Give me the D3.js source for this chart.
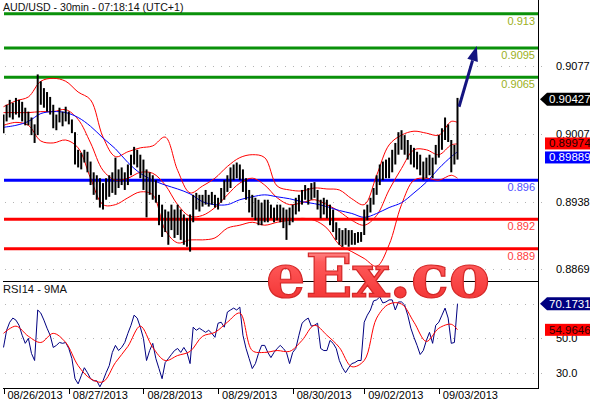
<!DOCTYPE html>
<html><head><meta charset="utf-8">
<script src="https://cdnjs.cloudflare.com/ajax/libs/d3/7.8.5/d3.min.js"></script>
<style>
body{margin:0;background:#ffffff}
svg{display:block;font-family:"Liberation Sans",Arial,sans-serif}
</style>
</head><body>
<svg id="c" width="590" height="400"></svg>
<script>
// ---------- DATA ----------
const chartTitle = "AUD/USD - 30min - 07:18:14 (UTC+1)";
const rsiTitle = "RSI14 - 9MA";
const dayLabels = ["08/26/2013","08/27/2013","08/28/2013","08/29/2013","08/30/2013","09/02/2013","09/03/2013"];
const dayStartIdx = [0,21,45,69,93,116,140];

const barHigh = [
0.9027,0.9037,0.9042,0.9039,0.9044,0.9042,0.9040,0.9034,0.9030,0.9024,
0.9017,0.9068,0.9061,0.9054,0.9050,0.9045,0.9037,0.9027,0.9034,0.9030,
0.9035,0.9030,0.9022,0.9009,0.8991,0.8988,0.8991,0.8989,0.8979,0.8968,
0.8965,0.8962,0.8957,0.8962,0.8965,0.8968,0.8983,0.8971,0.8973,0.8968,
0.8976,0.8986,0.8994,0.8991,0.8986,0.8981,0.8971,0.8968,0.8965,0.8960,
0.8945,0.8935,0.8930,0.8928,0.8935,0.8930,0.8935,0.8930,0.8925,0.8921,
0.8925,0.8945,0.8947,0.8945,0.8945,0.8950,0.8945,0.8948,0.8945,0.8942,
0.8952,0.8960,0.8965,0.8973,0.8976,0.8978,0.8976,0.8971,0.8962,0.8950,
0.8945,0.8942,0.8940,0.8937,0.8940,0.8940,0.8935,0.8932,0.8935,0.8935,
0.8932,0.8930,0.8932,0.8935,0.8942,0.8945,0.8950,0.8955,0.8952,0.8957,
0.8958,0.8950,0.8940,0.8942,0.8940,0.8935,0.8930,0.8917,0.8911,0.8909,
0.8911,0.8909,0.8909,0.8906,0.8907,0.8907,0.8930,0.8935,0.8942,0.8952,
0.8965,0.8976,0.8979,0.8981,0.8983,0.8991,0.8998,0.9009,0.9011,0.9006,
0.9001,0.8996,0.8993,0.8989,0.8986,0.8979,0.8983,0.8986,0.8983,0.8996,
0.9006,0.9013,0.9024,0.9017,0.9001,0.8996,0.9044];

const barLow = [
0.9008,0.9020,0.9024,0.9022,0.9027,0.9024,0.9020,0.9016,0.9016,0.9006,
0.8998,0.9006,0.9037,0.9034,0.9030,0.9027,0.9013,0.9011,0.9019,0.9015,
0.9020,0.9017,0.9008,0.8976,0.8973,0.8971,0.8978,0.8968,0.8955,0.8945,
0.8940,0.8932,0.8930,0.8940,0.8943,0.8947,0.8945,0.8952,0.8955,0.8950,
0.8955,0.8965,0.8976,0.8973,0.8962,0.8950,0.8922,0.8945,0.8940,0.8937,
0.8914,0.8902,0.8907,0.8894,0.8909,0.8901,0.8904,0.8899,0.8894,0.8892,
0.8887,0.8917,0.8930,0.8928,0.8933,0.8935,0.8933,0.8935,0.8932,0.8930,
0.8937,0.8940,0.8948,0.8952,0.8960,0.8962,0.8960,0.8948,0.8940,0.8927,
0.8922,0.8919,0.8914,0.8914,0.8917,0.8917,0.8921,0.8917,0.8919,0.8917,
0.8911,0.8899,0.8914,0.8917,0.8925,0.8928,0.8935,0.8940,0.8935,0.8940,
0.8942,0.8930,0.8921,0.8925,0.8921,0.8914,0.8907,0.8899,0.8894,0.8892,
0.8894,0.8892,0.8894,0.8894,0.8896,0.8897,0.8904,0.8919,0.8927,0.8935,
0.8945,0.8955,0.8960,0.8962,0.8962,0.8968,0.8976,0.8986,0.8991,0.8986,
0.8981,0.8976,0.8973,0.8971,0.8965,0.8960,0.8962,0.8965,0.8962,0.8976,
0.8983,0.8991,0.9001,0.8999,0.8968,0.8976,0.8981];

// indicator lines sampled every 4 bars (+ last bar)
const bandIdx = [0,4,8,12,16,20,24,28,32,36,40,44,48,52,56,60,64,68,72,76,80,84,88,92,96,100,104,108,112,116,120,124,128,132,136,140,144,146];
const bbUpper = [0.9035,0.9041,0.9045,0.9061,0.9064,0.9061,0.9050,0.9042,0.9004,0.8984,0.8989,0.8993,0.8995,0.9004,0.8970,0.8947,0.8954,0.8962,0.8974,0.8983,0.8986,0.8983,0.8954,0.8950,0.8949,0.8952,0.8951,0.8950,0.8941,0.8935,0.8965,0.8996,0.9006,0.9010,0.9008,0.9006,0.9020,0.9019];
const bbMiddle = [0.9029,0.9029,0.9029,0.9030,0.9030,0.9032,0.9022,0.8998,0.8970,0.8960,0.8962,0.8968,0.8967,0.8955,0.8935,0.8923,0.8924,0.8932,0.8945,0.8957,0.8962,0.8955,0.8942,0.8935,0.8937,0.8940,0.8935,0.8928,0.8919,0.8914,0.8924,0.8950,0.8972,0.8991,0.8991,0.8986,0.8996,0.8997];
const bbLower = [0.9016,0.9019,0.9016,0.9000,0.8998,0.9001,0.8993,0.8962,0.8935,0.8935,0.8942,0.8948,0.8945,0.8909,0.8896,0.8899,0.8899,0.8901,0.8911,0.8914,0.8917,0.8914,0.8917,0.8919,0.8921,0.8919,0.8911,0.8894,0.8887,0.8880,0.8872,0.8894,0.8935,0.8960,0.8962,0.8960,0.8965,0.8962];
const maBlue = [0.9014,0.9016,0.9020,0.9028,0.9030,0.9029,0.9024,0.9015,0.9003,0.8992,0.8978,0.8967,0.8960,0.8955,0.8951,0.8946,0.8938,0.8935,0.8935,0.8940,0.8943,0.8945,0.8943,0.8941,0.8938,0.8936,0.8933,0.8929,0.8926,0.8922,0.8926,0.8932,0.8937,0.8947,0.8958,0.8972,0.8984,0.8989];

const rsiValues = [
44.7,54.7,59.4,61.8,60.6,57.6,51.8,47.1,50.0,41.2,
37.1,66.5,64.7,60.6,55.9,51.8,44.7,45.9,47.6,47.1,
47.6,44.1,38.2,26.5,23.5,28.2,32.9,30.0,26.5,25.3,
25.3,21.8,25.3,30.0,34.1,41.8,45.9,42.9,44.7,47.6,
52.9,57.6,63.5,61.8,56.5,50.0,37.1,42.9,47.1,38.2,
32.4,26.5,35.9,38.2,40.6,42.9,44.1,41.8,44.7,41.8,
35.3,56.5,54.7,55.9,54.7,53.5,54.7,52.9,50.6,58.8,
59.4,56.5,65.3,66.5,67.6,66.5,68.2,51.8,44.1,38.2,
32.4,35.3,41.2,45.9,45.9,41.8,38.8,41.8,44.1,45.9,
44.1,41.8,35.3,41.8,44.1,51.8,58.8,60.6,61.8,57.1,
57.6,58.8,44.1,42.9,42.9,48.8,47.1,44.1,37.1,32.9,
30.0,32.9,35.3,35.9,37.1,37.1,59.4,63.5,66.5,71.8,
72.4,74.1,70.6,71.2,72.4,72.4,66.5,71.2,71.2,69.4,
63.5,55.9,50.6,45.9,40.6,42.9,48.8,53.5,47.1,57.6,
59.4,63.5,67.6,61.8,47.1,47.6,70.2];
const rsiMa = [52.9,57.1,51.2,47.6,52.9,47.6,34.1,26.5,24.7,35.9,45.3,57.1,44.7,37.1,40.0,42.4,51.2,53.5,59.4,64.7,42.9,41.8,42.9,42.4,48.8,57.6,51.8,44.7,33.5,37.1,61.8,70.0,70.0,59.4,48.2,55.9,58.2,55.0];

const levelValues = [0.913,0.9095,0.9065,0.896,0.892,0.889];
const levelKinds  = ["target","target","target","pivot","support","support"];
const levelText   = ["0.913","0.9095","0.9065","0.896","0.892","0.889"];
const priceTicks = [0.9077,0.9007,0.8938,0.8869];
const rsiTicks = [70,50,30];
const rsiTickShown = [false,true,true]; // 70.0 is covered by the RSI tag
const lastPrice = 0.90427, lastBBMid = 0.899748, lastMA = 0.898895;
const lastRsi = 70.1731, lastRsiMa = 54.9646;
const arrowFrom = [146.5, 0.9035], arrowTo = [152.2, 0.9097];
const watermark = "eEx.co";

// ---------- LAYOUT ----------
const svg = d3.select("#c");
const L = 3, R = 538, mainTop = 0, mainBot = 281, rsiBot = 388;
const x = d3.scaleLinear().domain([0,146]).range([3.5,457.5]);
const y = d3.scaleLinear().domain([0.889,0.913]).range([248.7,13.7]);
const yr = d3.scaleLinear().domain([30,70]).range([372.7,304]);
const kindColor = {target:"#0a910a", pivot:"#0000ff", support:"#ff0000"};
const kindText = {target:"#9cb01c", pivot:"#5050ff", support:"#ff3c3c"};

const defs = svg.append("defs");
defs.append("clipPath").attr("id","mainClip").append("rect")
  .attr("x",L).attr("y",mainTop).attr("width",R-L).attr("height",mainBot-mainTop);
defs.append("clipPath").attr("id","rsiClip").append("rect")
  .attr("x",L).attr("y",mainBot+1).attr("width",R-L).attr("height",rsiBot-mainBot-1);

// gridlines
const grid = svg.append("g").attr("stroke","#b4b4b4").attr("stroke-dasharray","1,7");
priceTicks.forEach(v=>grid.append("line").attr("x1",L+2).attr("x2",R+7).attr("y1",Math.round(y(v))+0.5).attr("y2",Math.round(y(v))+0.5));
rsiTicks.forEach(v=>grid.append("line").attr("x1",L+2).attr("x2",R+7).attr("y1",Math.round(yr(v))+0.5).attr("y2",Math.round(yr(v))+0.5));

// level lines
const lv = svg.append("g");
levelValues.forEach((v,i)=>{
  lv.append("line").attr("x1",L+1).attr("x2",R).attr("y1",y(v)).attr("y2",y(v))
    .attr("stroke",kindColor[levelKinds[i]]).attr("stroke-width",3);
  lv.append("text").attr("x",R-3).attr("y",y(v)+11).attr("text-anchor","end")
    .attr("font-size",11).attr("fill",kindText[levelKinds[i]]).text(levelText[i]);
});

// bands
const mg = svg.append("g").attr("clip-path","url(#mainClip)");
const lineGen = arr => d3.line().x((d,i)=>x(bandIdx[i])).y(d=>y(d)).curve(d3.curveCatmullRom.alpha(0.5))(arr);
[bbUpper,bbMiddle,bbLower].forEach(a=>mg.append("path").attr("d",lineGen(a)).attr("fill","none").attr("stroke","#ff0000").attr("stroke-width",1));
mg.append("path").attr("d",lineGen(maBlue)).attr("fill","none").attr("stroke","#0000ff").attr("stroke-width",1);

// bars
mg.append("g").selectAll("line").data(barHigh).join("line")
  .attr("x1",(d,i)=>x(i)).attr("x2",(d,i)=>x(i))
  .attr("y1",d=>y(d)).attr("y2",(d,i)=>y(barLow[i]))
  .attr("stroke","#000").attr("stroke-width",2);

// arrow
const ax0 = x(arrowFrom[0]), ay0 = y(arrowFrom[1]), ax1 = x(arrowTo[0]), ay1 = y(arrowTo[1]);
const ang = Math.atan2(ay1-ay0, ax1-ax0);
const hl = 15, hw = 5.5;
const bx = ax1 - hl*Math.cos(ang), by = ay1 - hl*Math.sin(ang);
svg.append("line").attr("x1",ax0).attr("y1",ay0).attr("x2",bx).attr("y2",by).attr("stroke","#141480").attr("stroke-width",3);
svg.append("polygon").attr("fill","#141480").attr("points",[
  [ax1,ay1],[bx - hw*Math.sin(ang), by + hw*Math.cos(ang)],[bx + hw*Math.sin(ang), by - hw*Math.cos(ang)]
].map(p=>p.join(",")).join(" "));

// rsi lines
const rg = svg.append("g").attr("clip-path","url(#rsiClip)");
rg.append("path").attr("d",d3.line().x((d,i)=>x(i)).y(d=>yr(d))(rsiValues)).attr("fill","none").attr("stroke","#000080").attr("stroke-width",1);
rg.append("path").attr("d",d3.line().x((d,i)=>x(bandIdx[i])).y(d=>yr(d)).curve(d3.curveCatmullRom.alpha(0.5))(rsiMa)).attr("fill","none").attr("stroke","#ff0000").attr("stroke-width",1);

// frame
const fr = svg.append("g").attr("stroke","#000").attr("stroke-width",1);
fr.append("line").attr("x1",R+0.5).attr("x2",R+0.5).attr("y1",0).attr("y2",rsiBot+1);
fr.append("line").attr("x1",L).attr("x2",R).attr("y1",mainBot+0.5).attr("y2",mainBot+0.5);
fr.append("line").attr("x1",L).attr("x2",R).attr("y1",rsiBot+0.5).attr("y2",rsiBot+0.5);
dayStartIdx.forEach(d=>fr.append("line").attr("x1",Math.round(x(d))+0.5).attr("x2",Math.round(x(d))+0.5).attr("y1",rsiBot).attr("y2",rsiBot+6));

// axis labels
const ax = svg.append("g").attr("font-size",11).attr("fill","#000");
dayLabels.forEach((t,i)=>ax.append("text").attr("x",x(dayStartIdx[i])+4).attr("y",399).text(t));
priceTicks.forEach(v=>ax.append("text").attr("x",556).attr("y",y(v)+4).text(d3.format(".4f")(v)));
rsiTicks.forEach((v,i)=>{ if(rsiTickShown[i]) ax.append("text").attr("x",556).attr("y",yr(v)+4).text(d3.format(".1f")(v)); });

// titles
svg.append("text").attr("x",3).attr("y",11).attr("font-size",10.6).attr("fill","#111").text(chartTitle);
svg.append("text").attr("x",3).attr("y",293).attr("font-size",11.2).attr("fill","#111").text(rsiTitle);

// tags
function tag(cy, label, fill, txt, arrow){
  const g = svg.append("g");
  const h = 6.5;
  if(arrow){
    g.append("polygon").attr("points",`540,${cy} 547,${cy-h} 590,${cy-h} 590,${cy+h} 547,${cy+h}`).attr("fill",fill);
  } else {
    g.append("rect").attr("x",545).attr("y",cy-h+0.5).attr("width",45).attr("height",2*h-1).attr("fill",fill);
  }
  g.append("text").attr("x",549).attr("y",cy+4).attr("font-size",11.5).attr("fill",txt).text(label);
  return cy + h;
}
tag(y(lastPrice), String(lastPrice), "#000000", "#ffffff", true);
const b2 = tag(y(lastBBMid), String(lastBBMid), "#ff0000", "#200000", false);
tag(Math.max(y(lastMA), b2 + 7.5), String(lastMA), "#0000ff", "#ffffff", false);
tag(yr(lastRsi), String(lastRsi), "#000080", "#ffffff", true);
tag(yr(lastRsiMa), String(lastRsiMa), "#ff0000", "#300000", false);

// watermark
const gr = defs.append("linearGradient").attr("id","wm").attr("x1",0).attr("y1",0).attr("x2",0).attr("y2",1);
gr.append("stop").attr("offset","0%").attr("stop-color","#ffb4b4");
gr.append("stop").attr("offset","30%").attr("stop-color","#ff5a5a");
gr.append("stop").attr("offset","100%").attr("stop-color","#f02a2a");
svg.append("text").attr("x",266).attr("y",297)
  .style("font-family","'DejaVu Serif','Liberation Serif',serif").style("font-weight","bold")
  .attr("font-size",60).attr("textLength",224).attr("lengthAdjust","spacingAndGlyphs")
  .attr("fill","url(#wm)").attr("stroke","#d42828").attr("stroke-width",1.2).text(watermark);
</script>
</body></html>
